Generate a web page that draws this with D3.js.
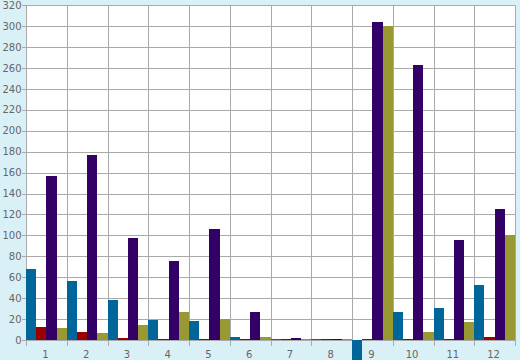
<!DOCTYPE html>
<html>
<head>
<meta charset="utf-8">
<script src="https://cdn.jsdelivr.net/npm/d3@7"></script>
<style>
  html, body { margin: 0; padding: 0; background: #daf0f7; }
  svg { display: block; }
</style>
</head>
<body>
<script>
const categories = ["1","2","3","4","5","6","7","8","9","10","11","12"];
const seriesNames = ["A","B","C","D"];
const seriesColors = ["#006699","#990000","#330066","#999933"];
const valuesA = [68, 56.5, 38.5, 19, 18, 3, 0.8, 0.8, -20, 27, 30.5, 52.5];
const valuesB = [12.5, 7.5, 1.5, 0.8, 0.8, 0.8, 0.8, 0.8, 0.8, 0.8, 0.8, 3];
const valuesC = [156.5, 177, 97.5, 75.5, 106, 27, 1.8, 0.8, 304.5, 263, 95.5, 125];
const valuesD = [11.5, 6.5, 14.5, 27, 20, 3, 0.8, 0.8, 300.5, 8, 17, 100];
const yTicks = [0,20,40,60,80,100,120,140,160,180,200,220,240,260,280,300,320];

const W = 520, H = 360;
const mLeft = 26, mRight = 515, mTop = 5.3, mBottom = 340;

const svg = d3.select("body").append("svg").attr("width", W).attr("height", H);

const x = d3.scaleBand().domain(categories).range([mLeft, mRight]).padding(0);
const xs = d3.scaleBand().domain(seriesNames).range([0, x.bandwidth()]).padding(0);
const y = d3.scaleLinear().domain([0, 320]).range([mBottom, mTop]);

// plot background
svg.append("rect").attr("x", mLeft).attr("y", mTop)
  .attr("width", mRight - mLeft).attr("height", mBottom - mTop).attr("fill", "#ffffff");

// horizontal grid
svg.append("g").selectAll("line").data(yTicks).join("line")
  .attr("x1", mLeft - 4).attr("x2", mRight)
  .attr("y1", d => Math.round(y(d)) + 0.5).attr("y2", d => Math.round(y(d)) + 0.5)
  .attr("stroke", "#aaaaaa").attr("stroke-width", 1);

// vertical grid
const bounds = categories.map(c => x(c)).concat([mRight]);
svg.append("g").selectAll("line").data(bounds).join("line")
  .attr("x1", d => Math.round(d) + 0.5).attr("x2", d => Math.round(d) + 0.5)
  .attr("y1", mTop).attr("y2", mBottom + 6)
  .attr("stroke", "#aaaaaa").attr("stroke-width", 1);

// bars
const allSeries = [valuesA, valuesB, valuesC, valuesD];
const rows = [];
categories.forEach((c, i) => {
  allSeries.forEach((vals, s) => rows.push({c, s: seriesNames[s], v: vals[i], color: seriesColors[s]}));
});
svg.append("g").selectAll("rect").data(rows).join("rect")
  .attr("x", d => x(d.c) + xs(d.s))
  .attr("width", xs.bandwidth())
  .attr("y", d => Math.min(y(d.v), y(0)))
  .attr("height", d => Math.abs(y(d.v) - y(0)))
  .attr("fill", d => d.color)
  .attr("shape-rendering", "crispEdges");

// y axis labels
svg.append("g").selectAll("text").data(yTicks).join("text")
  .attr("x", 21.5).attr("y", d => y(d) + 3.6)
  .attr("text-anchor", "end")
  .attr("font-family", "DejaVu Sans, Verdana, sans-serif")
  .attr("font-size", 10).attr("fill", "#666666")
  .text(d => d);

// x axis labels
svg.append("g").selectAll("text").data(categories).join("text")
  .attr("x", d => x(d) + x.bandwidth() / 2 - 1)
  .attr("y", 358)
  .attr("text-anchor", "middle")
  .attr("font-family", "DejaVu Sans, Verdana, sans-serif")
  .attr("font-size", 10).attr("fill", "#666666")
  .text(d => d);
</script>
</body>
</html>
